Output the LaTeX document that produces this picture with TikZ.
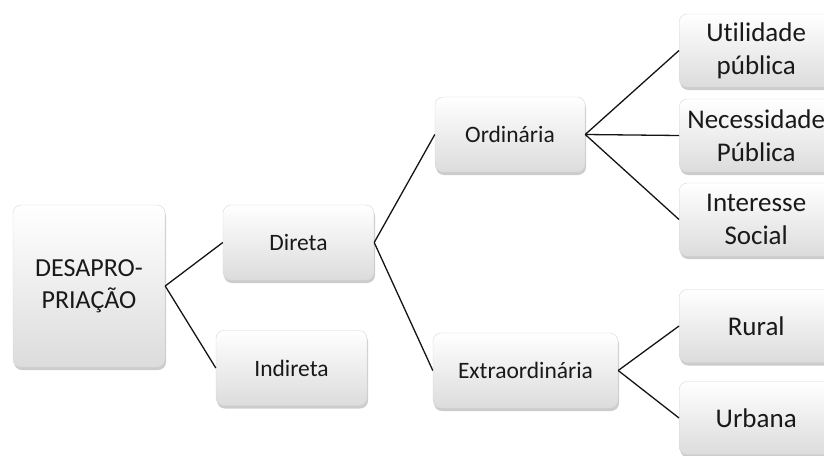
\documentclass[tikz,border=0pt]{standalone}
\usepackage{fontspec}
\setmainfont{Carlito}[Ligatures=NoCommon]
\usepackage{xcolor}
\usetikzlibrary{shapes,positioning,shadows}
\definecolor{boxborder}{RGB}{215,215,215}
\definecolor{boxbottom}{RGB}{220,220,220}
\definecolor{linkgray}{RGB}{20,20,20}
\definecolor{textdark}{RGB}{25,25,25}
\tikzset{
    % Define standard node styles
    levelbox/.style={
        rectangle, draw=boxborder, thin, top color=white, bottom color=boxbottom,
        align=center, inner sep=0pt, rounded corners=8pt, text=textdark,
        drop shadow={opacity=0.4, shadow xshift=1pt, shadow yshift=-3pt}
    },
    rootbox/.style={
        levelbox, minimum width=152pt, minimum height=162pt,
        font=\fontsize{26}{32}\selectfont
    },
    midbox/.style={
        levelbox, minimum height=75pt,
        font=\fontsize{23.5}{28}\selectfont
    },
    leafbox/.style={
        levelbox, minimum width=154pt, minimum height=73pt,
        font=\fontsize{27}{33}\selectfont
    },
    link/.style={
        draw=linkgray, line width=1.3pt
    }
}
\begin{document}
\begin{tikzpicture}[x=1pt, y=-1pt]
\useasboundingbox (0,0) rectangle (824,455);

% Classification tree
\node[rootbox] (desap) at (89,286) {DESAPRO-\\PRIAÇÃO};
\node[midbox, minimum width=151pt] (direta) at (298.5,242.5) {Direta};
\node[midbox, minimum width=151pt] (indireta) at (291.5,368) {Indireta};
\node[midbox, minimum width=150pt] (ordinaria) at (510,134.5) {Ordinária};
\node[midbox, minimum width=185pt] (extra) at (525.5,370.5) {Extraordinária};
\node[leafbox, anchor=west] (utilidade) at (679,50.5) {Utilidade\\pública};
\node[leafbox, anchor=west] (necessidade) at (679,135.5) {Necessidade\\Pública};
\node[leafbox, anchor=west] (interesse) at (679,219.5) {Interesse\\Social};
\node[leafbox, anchor=west] (rural) at (679,326) {Rural};
\node[leafbox, anchor=west] (urbana) at (679,418) {Urbana};

% Links
\draw[link] (desap.east) -- (direta.west);
\draw[link] (desap.east) -- (indireta.west);
\draw[link] (direta.east) -- (ordinaria.west);
\draw[link] (direta.east) -- (extra.west);
\draw[link] (ordinaria.east) -- (utilidade.west);
\draw[link] (ordinaria.east) -- (necessidade.west);
\draw[link] (ordinaria.east) -- (interesse.west);
\draw[link] (extra.east) -- (rural.west);
\draw[link] (extra.east) -- (urbana.west);

\end{tikzpicture}
\end{document}
